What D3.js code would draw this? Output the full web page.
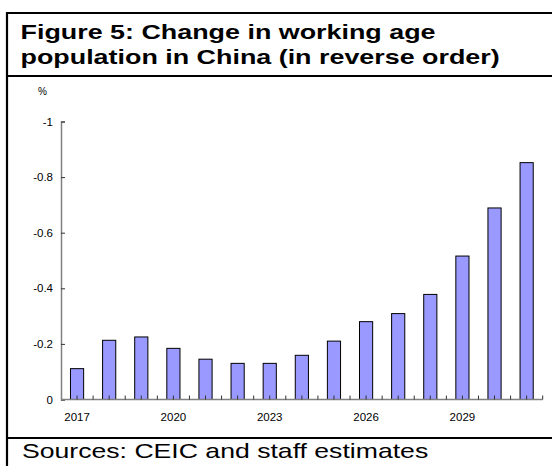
<!DOCTYPE html>
<html>
<head>
<meta charset="utf-8">
<script src="https://cdn.jsdelivr.net/npm/d3@7"></script>
<style>
  html, body { margin: 0; padding: 0; background: #fff; }
  svg { display: block; }
  text { font-family: "Liberation Sans", Arial, sans-serif; }
</style>
</head>
<body>
<svg id="chart" width="552" height="466"></svg>
<script>
const years = ["2017","2018","2019","2020","2021","2022","2023","2024","2025","2026","2027","2028","2029","2030","2031"];
const values = [-0.111, -0.213, -0.225, -0.184, -0.145, -0.130, -0.130, -0.159, -0.210, -0.280, -0.309, -0.378, -0.516, -0.689, -0.852];
const yTicks = [0, -0.2, -0.4, -0.6, -0.8, -1];
const xLabels = ["2017","2020","2023","2026","2029"];
const titleLines = ["Figure 5: Change in working age", "population in China (in reverse order)"];
const unitLabel = "%";
const sourceText = "Sources: CEIC and staff estimates";

(function () {
const svg = d3.select("#chart");
const textStretch = 1.28; // reference text is drawn horizontally wider

// frame lines
svg.append("line").attr("x1",7).attr("x2",552).attr("y1",13).attr("y2",13).attr("stroke","#000").attr("stroke-width",2.2);
svg.append("line").attr("x1",7).attr("x2",552).attr("y1",76).attr("y2",76).attr("stroke","#000").attr("stroke-width",2.2);
svg.append("line").attr("x1",7).attr("x2",552).attr("y1",438).attr("y2",438).attr("stroke","#000").attr("stroke-width",2.2);
svg.append("line").attr("x1",7).attr("x2",7).attr("y1",12).attr("y2",466).attr("stroke","#000").attr("stroke-width",2.2);

// title
svg.selectAll("text.title").data(titleLines).enter().append("text")
  .attr("class","title")
  .attr("transform",(d,i)=>`translate(20.5,${38.5 + i*25}) scale(${textStretch},1)`)
  .attr("font-size",21).attr("font-weight","bold").attr("fill","#000")
  .text(d=>d);

// source
svg.append("text")
  .attr("transform",`translate(22,458) scale(${textStretch},1)`)
  .attr("font-size",20.8).attr("fill","#000").text(sourceText);

const mLeft = 61, mRight = 542.7, mTop = 121.5, mBottom = 399.5;

const x = d3.scaleBand().domain(years).range([mLeft, mRight]).padding(0);
const y = d3.scaleLinear().domain([0, -1]).range([mBottom, mTop]);

const fmt = d => d === 0 ? "0" : String(d);

// bars
const barW = x.bandwidth() * 0.41;
svg.append("g").selectAll("rect").data(years).enter().append("rect")
  .attr("x", (d)=> x(d) + (x.bandwidth()-barW)/2)
  .attr("y", (d,i)=> y(values[i]))
  .attr("width", barW)
  .attr("height", (d,i)=> y(0) - y(values[i]))
  .attr("fill","#9999FF")
  .attr("stroke","#000").attr("stroke-width",1);

// y axis
const yAxis = d3.axisLeft(y).tickValues(yTicks).tickFormat(fmt).tickSize(-4).tickPadding(8);
const gy = svg.append("g").attr("transform",`translate(${mLeft},0)`).call(yAxis);
gy.select(".domain").attr("stroke","#808080").attr("stroke-width",1.5);
gy.selectAll(".tick line").attr("stroke","#333").attr("stroke-width",1);
gy.selectAll(".tick text").attr("font-size",11.5).attr("fill","#000").attr("font-family","Liberation Sans, Arial, sans-serif");

// x axis line
svg.append("line").attr("x1",mLeft).attr("x2",mRight).attr("y1",mBottom).attr("y2",mBottom).attr("stroke","#808080").attr("stroke-width",1.5);

// x minor ticks: band edges and centers
const tickPos = [];
years.forEach(d => { tickPos.push(x(d) + x.bandwidth()/2); tickPos.push(x(d) + x.bandwidth()); });
svg.append("g").selectAll("line").data(tickPos).enter().append("line")
  .attr("x1",d=>d).attr("x2",d=>d).attr("y1",mBottom).attr("y2",mBottom-4)
  .attr("stroke","#333").attr("stroke-width",1);

// x labels
svg.append("g").selectAll("text").data(xLabels).enter().append("text")
  .attr("x", d=> x(d) + x.bandwidth()/2)
  .attr("y", 421)
  .attr("text-anchor","middle").attr("font-size",11.5).attr("fill","#000")
  .text(d=>d);

// unit label
svg.append("text").attr("x",38).attr("y",95).attr("font-size",10).attr("fill","#000").text(unitLabel);
})();
</script>
</body>
</html>
